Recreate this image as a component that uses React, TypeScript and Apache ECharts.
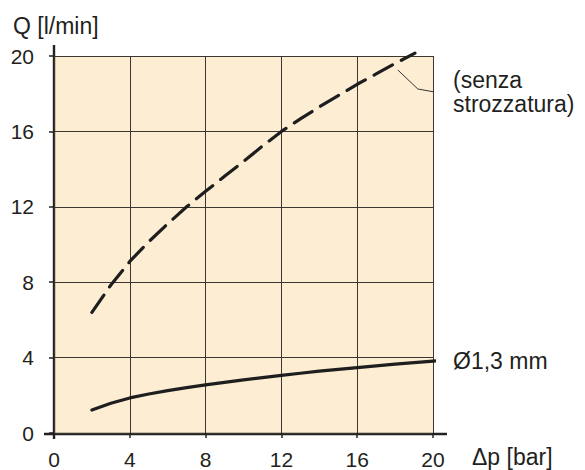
import React, { useEffect, useRef } from "react";
import * as echarts from "echarts";

// Δp [bar] values along the dashed curve (senza strozzatura)
const pressureOpen = [2, 3, 4, 5, 6, 7, 8, 9, 10, 11, 12, 13, 14, 15, 16, 17, 18, 19.05];
const flowOpen = [6.4, 7.85, 9.1, 10.15, 11.1, 12.0, 12.82, 13.62, 14.4, 15.22, 16.0, 16.66, 17.3, 17.9, 18.5, 19.05, 19.6, 20.15];

// Δp [bar] values along the solid curve (Ø1,3 mm)
const pressureThrottle = [2, 3, 4, 5, 6, 7, 8, 9, 10, 11, 12, 13, 14, 15, 16, 17, 18, 19, 20, 20.3];
const flowThrottle = [1.22, 1.58, 1.86, 2.07, 2.25, 2.41, 2.55, 2.69, 2.82, 2.94, 3.06, 3.17, 3.28, 3.38, 3.47, 3.56, 3.65, 3.73, 3.81, 3.84];

// leader line for the "(senza strozzatura)" note, in data units
const leaderX = [18.14, 19.2, 20.63];
const leaderY = [19.26, 18.25, 17.99];

const xTicks = [0, 4, 8, 12, 16, 20];
const yTicks = [0, 4, 8, 12, 16, 20];

const FONT = "'Liberation Sans', Arial, Helvetica, sans-serif";
const TXT = "#231f20";

export default function App() {
  const ref = useRef<HTMLDivElement>(null);
  useEffect(() => {
    document.body.style.margin = "0";
    if (!ref.current) return;
    const chart = echarts.init(ref.current, null, { renderer: "svg" });
    const L = 54, T = 56, R = 152, B = 36;
    const H = 470;
    const x0 = L, y0 = H - B;
    chart.setOption({
      animation: false,
      grid: {
        left: L, right: R, top: T, bottom: B,
        show: true, backgroundColor: "#fdeed3", borderWidth: 0,
      },
      xAxis: {
        type: "value", min: xTicks[0], max: xTicks[xTicks.length - 1], interval: 4,
        axisLine: { show: false },
        axisTick: { show: true, inside: false, length: 5, lineStyle: { color: "#222", width: 1.5 } },
        axisLabel: { margin: 16, color: TXT, fontSize: 21, fontFamily: FONT },
        splitLine: { show: true, lineStyle: { color: "#3c3630", width: 1 } },
      },
      yAxis: {
        type: "value", min: yTicks[0], max: yTicks[yTicks.length - 1], interval: 4,
        axisLine: { show: false },
        axisTick: { show: true, inside: false, length: 5, lineStyle: { color: "#222", width: 1.5 } },
        axisLabel: { margin: 20, color: TXT, fontSize: 21, fontFamily: FONT },
        splitLine: { show: true, lineStyle: { color: "#3c3630", width: 1 } },
      },
      series: [
        {
          type: "line", smooth: false, symbol: "none", clip: false,
          data: pressureOpen.map((p, i) => [p, flowOpen[i]]),
          lineStyle: { color: "#1e1e1e", width: 3.2, type: [21, 10], cap: "round", join: "round" },
        },
        {
          type: "line", smooth: false, symbol: "none", clip: false,
          data: pressureThrottle.map((p, i) => [p, flowThrottle[i]]),
          lineStyle: { color: "#1e1e1e", width: 3.2, cap: "round", join: "round" },
        },
        {
          type: "line", smooth: false, symbol: "none", clip: false,
          data: leaderX.map((p, i) => [p, leaderY[i]]),
          lineStyle: { color: "#333", width: 1 },
        },
      ],
      graphic: [
        { type: "line", shape: { x1: x0, y1: 45, x2: x0, y2: y0 + 5 }, style: { stroke: "#222", lineWidth: 2.4 } },
        { type: "line", shape: { x1: 44, y1: y0, x2: 447, y2: y0 }, style: { stroke: "#222", lineWidth: 2.4 } },
        { type: "text", x: 13, y: 26, style: { text: "Q [l/min]", fontSize: 23, fontFamily: FONT, fill: TXT, verticalAlign: "middle" } },
        { type: "text", x: 472, y: 457, style: { text: "Δp [bar]", fontSize: 23, fontFamily: FONT, fill: TXT, verticalAlign: "middle" } },
        { type: "text", x: 453, y: 361, style: { text: "Ø1,3 mm", fontSize: 23, fontFamily: FONT, fill: TXT, verticalAlign: "middle" } },
        { type: "text", x: 453, y: 80, style: { text: "(senza", fontSize: 23, fontFamily: FONT, fill: TXT, verticalAlign: "middle" } },
        { type: "text", x: 453, y: 104, style: { text: "strozzatura)", fontSize: 23, fontFamily: FONT, fill: TXT, verticalAlign: "middle" } },
      ],
    });
    return () => chart.dispose();
  }, []);
  return <div ref={ref} style={{ width: 585, height: 470 }} />;
}
